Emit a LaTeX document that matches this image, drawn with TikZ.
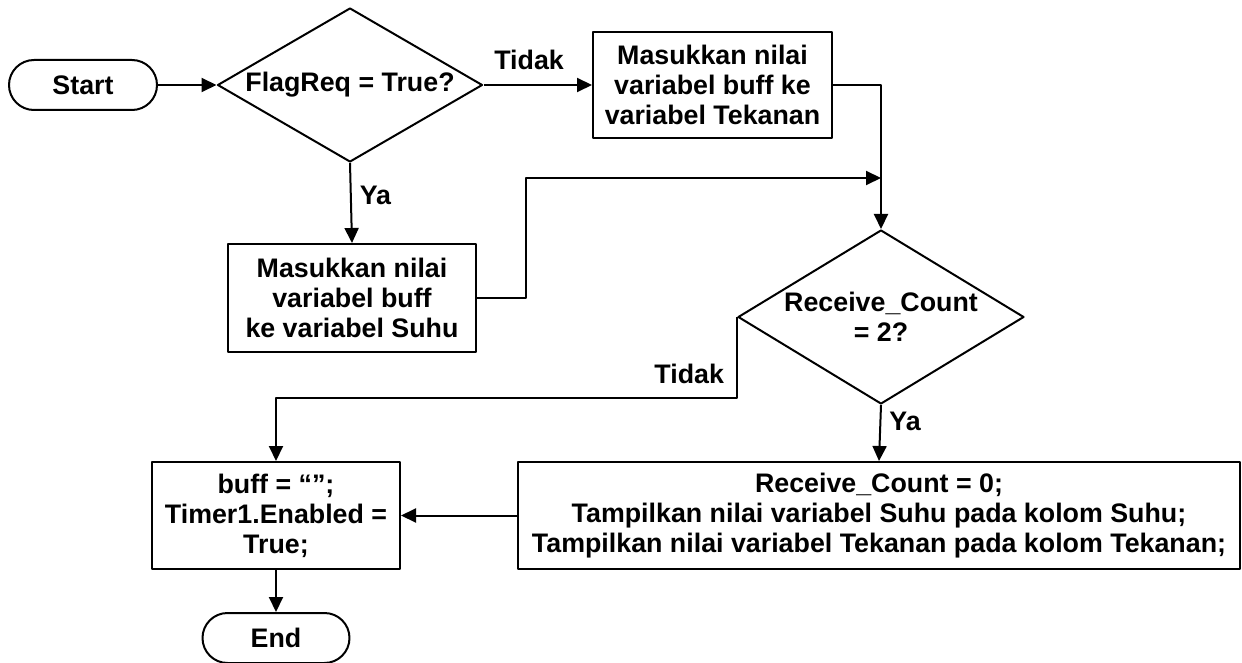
\documentclass[tikz,border=0pt]{standalone}
\usepackage{fontspec}
\setmainfont{Liberation Sans}
\usetikzlibrary{shapes.geometric,arrows.meta}

\begin{document}
\begin{tikzpicture}[font=\fontsize{13.4}{15}\selectfont\bfseries, line join=round, line width=1pt,
	>={Triangle[length=7.5pt,width=7pt]}, x=0.5pt, y=-0.5pt,
	proses/.style={draw, rectangle, align=center, inner sep=0pt},
	terminal/.style={draw, rectangle, rounded corners=12.5pt, minimum height=25pt, inner sep=0pt},
	pilih/.style={draw, diamond, align=center, inner sep=-1pt},
	ket/.style={inner sep=2pt}]
	\useasboundingbox (0,0) rectangle (1242,663);
	% simpul
	\node[terminal, minimum width=74pt] (start) at (83,85) {Start};
	\node[pilih, aspect=1.72, minimum width=132.5pt, minimum height=77pt] (flag) at (350,85) {FlagReq = True?};
	\node[proses, minimum width=119.5pt, minimum height=53pt] (tekanan) at (712.5,85) {Masukkan nilai\\variabel buff ke\\variabel Tekanan};
	\node[proses, minimum width=124pt, minimum height=54pt] (suhu) at (352,298) {Masukkan nilai\\variabel buff\\ke variabel Suhu};
	\coordinate (gabung) at (881,178);
	\node[pilih, aspect=1.64, minimum width=143pt, minimum height=87pt] (terima) at (881,317) {Receive\_Count\\= 2?};
	\node[proses, minimum width=361pt, minimum height=53.5pt] (tampil) at (879,515.5) {Receive\_Count = 0;\\Tampilkan nilai variabel Suhu pada kolom Suhu;\\Tampilkan nilai variabel Tekanan pada kolom Tekanan;};
	\node[proses, minimum width=124pt, minimum height=53.5pt] (reset) at (276,515.5) {buff = “”;\\Timer1.Enabled =\\True;};
	\node[terminal, minimum width=73.5pt] (selesai) at (276,638) {End};
	% garis
	\draw[->] (start.east) -- (flag.west);
	\draw[->] (flag.east) -- node[ket, above=5pt, pos=0.42] {Tidak} (tekanan.west);
	\draw[->] (flag.south) -- node[ket, right=2pt, pos=0.4] {Ya} (suhu.north);
	\draw[->] (tekanan.east) -| (terima.north);
	\draw[->] (suhu.east) -- ++(49,0) |- (gabung);
	\draw[->] (terima.west) -- node[ket, left=4pt, pos=0.7] {Tidak} ++(0,81) -| (reset.north);
	\draw[->] (terima.south) -- node[ket, right=2pt, pos=0.29] {Ya} (tampil.north);
	\draw[->] (tampil.west) -- (reset.east);
	\draw[->] (reset.south) -- (selesai.north);
\end{tikzpicture}
\end{document}
